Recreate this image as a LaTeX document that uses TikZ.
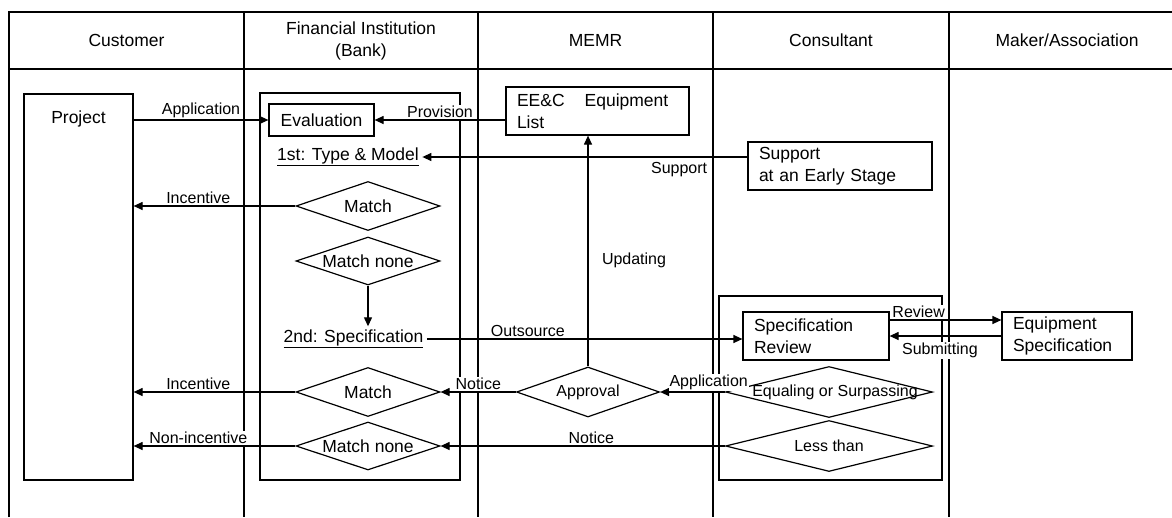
\documentclass[tikz,border=0pt]{standalone}
\usepackage{fontspec}
\setmainfont{Liberation Sans}
\usetikzlibrary{arrows.meta, positioning, shapes.geometric}
\newcommand*{\blockfont}{\fontsize{17.5}{22}\selectfont}
\newcommand*{\flowfont}{\fontsize{16}{19}\selectfont}
\newcommand*{\dtext}[1]{\makebox[0pt]{#1}}
\tikzstyle{lane} = [line width=1.3pt]
\tikzstyle{stage} = [font=\blockfont]
\tikzstyle{block} = [draw, rectangle, line width=1.2pt, font=\blockfont, inner sep=3pt]
\tikzstyle{process} = [block, align=left, inner xsep=11pt, minimum height=48pt]
\tikzstyle{decision} = [draw, diamond, line width=1.2pt, inner sep=0pt, minimum width=144pt, minimum height=49pt, font=\blockfont]
\tikzstyle{check} = [decision, minimum width=207pt, minimum height=51pt, font=\flowfont]
\tikzstyle{lbl} = [font=\flowfont, fill=white, inner sep=1pt, outer sep=1pt]
\tikzstyle{flow} = [-{Triangle[length=9pt, width=8pt]}, line width=1.2pt]

\begin{document}
\begin{tikzpicture}[x=1pt, y=-1pt]
    \useasboundingbox (0,0) rectangle (1172,517);

    % Lanes.
    \draw [lane] (9,517) -- (9,12) -- (1172,12);
    \draw [lane] (9,69) -- (1172,69);
    \foreach \x in {244, 478, 713, 949} {
        \draw [lane] (\x,12) -- (\x,517);
    }

    % Headers.
    \node (customer) [stage] at (126.5,40) {Customer};
    \node (bank) [stage, align=center] at (361,41) {Financial Institution\\(Bank)};
    \node (memr) [stage] at (595.5,40) {MEMR};
    \node (consultant) [stage] at (831,40) {Consultant};
    \node (maker) [stage] at (1067,40) {Maker/Association};

    % Areas.
    \draw [lane] (260,93) rectangle (460,480);
    \draw [lane] (719,296) rectangle (942,480);

    % Blocks.
    \node (project) [block, minimum width=109pt, minimum height=386pt] at (78.5,287) {};
    \node (projecttitle) [stage, below=14pt of project.north] {Project};
    \node (evaluation) [block, minimum width=105pt, minimum height=32pt] at (321.5,120) {Evaluation};
    \node (equiplist) [process, text width=161pt] at (597.5,111) {EE\&C\hspace{20pt}Equipment\\List};
    \node (typemodel) [stage] at (348,157) {\underline{1st: Type \& Model}};
    \node (support) [process, text width=162pt] at (840,166) {Support\\at an Early Stage};
    \node (specification) [stage] at (353.5,339) {\underline{2nd: Specification}};
    \node (specreview) [process, text width=124pt] at (816,336) {Specification\\Review};
    \node (equipspec) [process, text width=108pt] at (1067,336) {Equipment\\Specification};

    % Decisions.
    \node (match1) [decision] at (368,206) {\dtext{Match}};
    \node (matchnone1) [decision, minimum height=48pt] at (368,261) {\dtext{Match none}};
    \node (match2) [decision] at (368,392) {\dtext{Match}};
    \node (matchnone2) [decision, minimum height=48pt] at (368,446) {\dtext{Match none}};
    \node (approval) [decision, minimum width=143pt, minimum height=50pt, font=\flowfont] at (588,392) {\dtext{Approval}};
    \node (equal) [check] at (829,392) {\dtext{\hspace{12pt}Equaling or Surpassing}};
    \node (less) [check] at (829,446) {\dtext{Less than}};

    % Arrows.
    \draw [flow] (project.east |- evaluation) -- node [lbl, above] {Application} (evaluation);
    \draw [flow] (equiplist.west |- evaluation) -- node [lbl, above] {Provision} (evaluation);
    \draw [flow] (support.west |- typemodel) -- node [lbl, below=3pt, pos=0.21] {Support} (typemodel);
    \draw [flow] (match1) -- node [lbl, above, pos=0.6] {Incentive} (project.east |- match1);
    \draw [flow] (matchnone1.south) -- (matchnone1.south |- specification.north);
    \draw [flow] (specification) -- node [lbl, above, pos=0.32] {Outsource} (specification -| specreview.west);
    \draw [flow] ([yshift=16pt]specreview.east) -- node [lbl, above, pos=0.26] {Review} ([yshift=16pt]specreview.east -| equipspec.west);
    \draw [flow] (equipspec.west) -- node [lbl, below=5pt, pos=0.55] {Submitting} (specreview.east);
    \draw [flow] (approval) -- node [lbl, right=12pt, pos=0.46] {Updating} (approval |- equiplist.south);
    \draw [flow] (equal) -- node [lbl, above, pos=0.25] {Application} (approval);
    \draw [flow] (approval) -- node [lbl, above] {Notice} (match2);
    \draw [flow] (less) -- node [lbl, above, pos=0.47] {Notice} (matchnone2);
    \draw [flow] (match2) -- node [lbl, above, pos=0.6] {Incentive} (project.east |- match2);
    \draw [flow] (matchnone2) -- node [lbl, above, pos=0.6] {Non-incentive} (project.east |- matchnone2);
\end{tikzpicture}
\end{document}
